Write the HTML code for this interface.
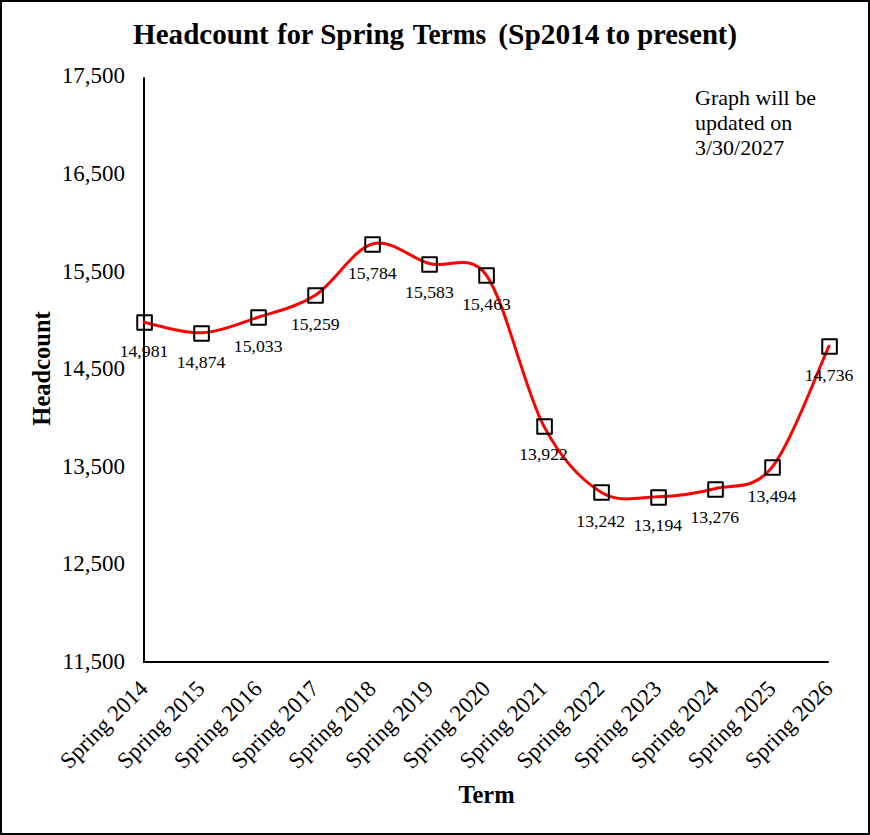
<!DOCTYPE html>
<html><head><meta charset="utf-8"><title>Headcount for Spring Terms</title>
<style>
html,body{margin:0;padding:0;background:#fff;}
svg{display:block;}
text{font-family:"Liberation Serif", serif;fill:#000;}
</style></head><body>
<svg width="870" height="835" viewBox="0 0 870 835">
<rect x="0" y="0" width="870" height="835" fill="#fff"/>
<rect x="1" y="1" width="868" height="833" fill="none" stroke="#000" stroke-width="2"/>

<text x="133.09" y="44" font-size="28.8" font-weight="bold" textLength="135.72" lengthAdjust="spacingAndGlyphs">Headcount</text>
<text x="277.22" y="44" font-size="28.8" font-weight="bold" textLength="36.15" lengthAdjust="spacingAndGlyphs">for</text>
<text x="320.19" y="44" font-size="28.8" font-weight="bold" textLength="83.85" lengthAdjust="spacingAndGlyphs">Spring</text>
<text x="412.70" y="44" font-size="28.8" font-weight="bold" textLength="73.61" lengthAdjust="spacingAndGlyphs">Terms</text>
<text x="498.28" y="44" font-size="28.8" font-weight="bold" textLength="101.24" lengthAdjust="spacingAndGlyphs">(Sp2014</text>
<text x="605.89" y="44" font-size="28.8" font-weight="bold" textLength="24.33" lengthAdjust="spacingAndGlyphs">to</text>
<text x="637.20" y="44" font-size="28.8" font-weight="bold" textLength="99.74" lengthAdjust="spacingAndGlyphs">present)</text>
<text x="125" y="82.55" font-size="23" text-anchor="end">17,500</text>
<text x="125" y="180.55" font-size="23" text-anchor="end">16,500</text>
<text x="125" y="278.55" font-size="23" text-anchor="end">15,500</text>
<text x="125" y="375.55" font-size="23" text-anchor="end">14,500</text>
<text x="125" y="473.55" font-size="23" text-anchor="end">13,500</text>
<text x="125" y="570.55" font-size="23" text-anchor="end">12,500</text>
<text x="125" y="668.55" font-size="23" text-anchor="end">11,500</text>
<text transform="translate(50,368.5) rotate(-90)" font-size="24.5" font-weight="bold" text-anchor="middle">Headcount</text>
<text x="486.5" y="803" font-size="24.5" font-weight="bold" text-anchor="middle">Term</text>
<text transform="translate(149.10,690) rotate(-45)" font-size="23" text-anchor="end">Spring 2014</text>
<text transform="translate(206.18,690) rotate(-45)" font-size="23" text-anchor="end">Spring 2015</text>
<text transform="translate(263.27,690) rotate(-45)" font-size="23" text-anchor="end">Spring 2016</text>
<text transform="translate(320.35,690) rotate(-45)" font-size="23" text-anchor="end">Spring 2017</text>
<text transform="translate(377.43,690) rotate(-45)" font-size="23" text-anchor="end">Spring 2018</text>
<text transform="translate(434.52,690) rotate(-45)" font-size="23" text-anchor="end">Spring 2019</text>
<text transform="translate(491.60,690) rotate(-45)" font-size="23" text-anchor="end">Spring 2020</text>
<text transform="translate(548.68,690) rotate(-45)" font-size="23" text-anchor="end">Spring 2021</text>
<text transform="translate(605.77,690) rotate(-45)" font-size="23" text-anchor="end">Spring 2022</text>
<text transform="translate(662.85,690) rotate(-45)" font-size="23" text-anchor="end">Spring 2023</text>
<text transform="translate(719.93,690) rotate(-45)" font-size="23" text-anchor="end">Spring 2024</text>
<text transform="translate(777.02,690) rotate(-45)" font-size="23" text-anchor="end">Spring 2025</text>
<text transform="translate(834.10,690) rotate(-45)" font-size="23" text-anchor="end">Spring 2026</text>
<path d="M144,78 V662 H828" fill="none" stroke="#000" stroke-width="2" stroke-linecap="round"/>
<path d="M144.00,322.31 C153.51,324.05 182.06,333.60 201.08,332.75 C220.11,331.91 239.14,323.50 258.17,317.24 C277.19,310.98 296.22,307.40 315.25,295.18 C334.28,282.97 353.31,249.22 372.33,243.95 C391.36,238.68 410.39,258.35 429.42,263.57 C448.44,268.79 469.72,251.46 486.50,275.28 C505.53,302.29 524.56,389.53 543.58,425.65 C562.61,461.78 581.64,480.17 600.67,492.01 C619.69,503.85 638.72,497.25 657.75,496.69 C676.78,496.14 695.81,493.57 714.83,488.69 C733.86,483.81 752.89,491.16 771.92,467.42 C790.94,443.67 819.49,366.42 829.00,346.22" fill="none" stroke="#ff0000" stroke-width="3" stroke-linecap="round" stroke-linejoin="round"/>
<rect x="137.25" y="315.20" width="14.6" height="14.6" fill="none" stroke="#000" stroke-width="2" stroke-linejoin="round"/>
<rect x="194.25" y="326.20" width="14.6" height="14.6" fill="none" stroke="#000" stroke-width="2" stroke-linejoin="round"/>
<rect x="251.25" y="310.20" width="14.6" height="14.6" fill="none" stroke="#000" stroke-width="2" stroke-linejoin="round"/>
<rect x="308.25" y="288.20" width="14.6" height="14.6" fill="none" stroke="#000" stroke-width="2" stroke-linejoin="round"/>
<rect x="365.25" y="237.20" width="14.6" height="14.6" fill="none" stroke="#000" stroke-width="2" stroke-linejoin="round"/>
<rect x="422.25" y="257.20" width="14.6" height="14.6" fill="none" stroke="#000" stroke-width="2" stroke-linejoin="round"/>
<rect x="479.25" y="268.20" width="14.6" height="14.6" fill="none" stroke="#000" stroke-width="2" stroke-linejoin="round"/>
<rect x="537.25" y="419.20" width="14.6" height="14.6" fill="none" stroke="#000" stroke-width="2" stroke-linejoin="round"/>
<rect x="594.25" y="485.20" width="14.6" height="14.6" fill="none" stroke="#000" stroke-width="2" stroke-linejoin="round"/>
<rect x="651.25" y="490.20" width="14.6" height="14.6" fill="none" stroke="#000" stroke-width="2" stroke-linejoin="round"/>
<rect x="708.25" y="482.20" width="14.6" height="14.6" fill="none" stroke="#000" stroke-width="2" stroke-linejoin="round"/>
<rect x="765.25" y="460.20" width="14.6" height="14.6" fill="none" stroke="#000" stroke-width="2" stroke-linejoin="round"/>
<rect x="822.25" y="339.20" width="14.6" height="14.6" fill="none" stroke="#000" stroke-width="2" stroke-linejoin="round"/>
<text x="144.00" y="357.11" font-size="17.7" text-anchor="middle">14,981</text>
<text x="201.08" y="367.55" font-size="17.7" text-anchor="middle">14,874</text>
<text x="258.17" y="352.04" font-size="17.7" text-anchor="middle">15,033</text>
<text x="315.25" y="329.98" font-size="17.7" text-anchor="middle">15,259</text>
<text x="372.33" y="278.75" font-size="17.7" text-anchor="middle">15,784</text>
<text x="429.42" y="298.37" font-size="17.7" text-anchor="middle">15,583</text>
<text x="486.50" y="310.08" font-size="17.7" text-anchor="middle">15,463</text>
<text x="543.58" y="460.45" font-size="17.7" text-anchor="middle">13,922</text>
<text x="600.67" y="526.81" font-size="17.7" text-anchor="middle">13,242</text>
<text x="657.75" y="531.49" font-size="17.7" text-anchor="middle">13,194</text>
<text x="714.83" y="523.49" font-size="17.7" text-anchor="middle">13,276</text>
<text x="771.92" y="502.22" font-size="17.7" text-anchor="middle">13,494</text>
<text x="829.00" y="381.02" font-size="17.7" text-anchor="middle">14,736</text>
<text font-size="22"><tspan x="695" y="105">Graph will be</tspan><tspan x="695" y="130">updated on</tspan><tspan x="695" y="155">3/30/2027</tspan></text>
</svg></body></html>
